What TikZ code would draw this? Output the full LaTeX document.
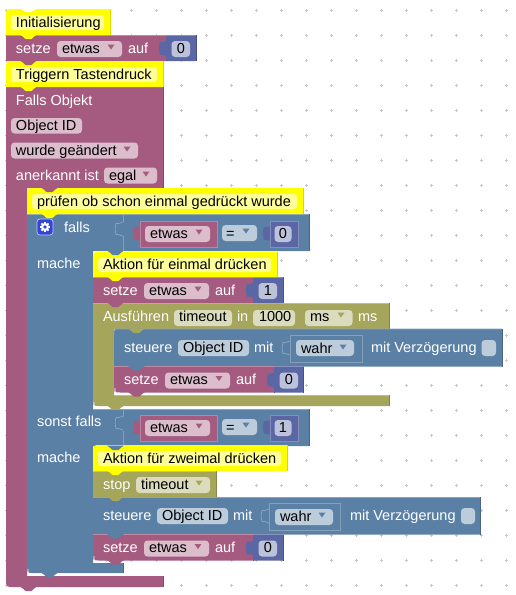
\documentclass[tikz,border=0pt]{standalone}
\usepackage{fontspec}
\setmainfont{Liberation Sans}
\definecolor{pur}{HTML}{A55B80}
\definecolor{blu}{HTML}{5B80A5}
\definecolor{num}{HTML}{5B67A5}
\definecolor{oli}{HTML}{A5A55B}
\definecolor{yel}{HTML}{FFFF00}
\definecolor{yin}{HTML}{FFFF99}
\definecolor{fpur}{HTML}{DBBDCC}
\definecolor{fblu}{HTML}{BDCCDB}
\definecolor{fnum}{HTML}{BDC2DB}
\definecolor{foli}{HTML}{DBDBBD}
\definecolor{gear}{HTML}{3344DD}
\newcounter{tn}
\tikzset{
  lab/.style={anchor=base west,inner sep=0pt,outer sep=0pt,font=\fontsize{14.5}{16}\selectfont},
  labc/.style={anchor=base,inner sep=0pt,outer sep=0pt,font=\fontsize{14.5}{16}\selectfont},
  edge/.style={line width=0.7pt}
}
% block: colour x1 y1 x2 y2 top-left radius bottom-left radius
\newcommand{\blk}[7]{%
  \fill[#1] (#2,#3+#6) .. controls (#2,#3) .. (#2+#6,#3) -- (#4,#3) -- (#4,#5) -- (#2+#7,#5) .. controls (#2,#5) .. (#2,#5-#7) -- cycle;
  \draw[edge,#1!72!white] (#2,#3+#6) .. controls (#2,#3) .. (#2+#6,#3) -- (#4,#3);
  \draw[edge,#1!80!black] (#4,#3) -- (#4,#5);
}
% statement tab below a block at left x, edge y
\newcommand{\tabd}[3]{%
  \fill[#1] (#2+14,#3-0.5) .. controls (#2+17,#3) and (#2+18,#3+4) .. (#2+20,#3+4) -- (#2+25,#3+4) .. controls (#2+27,#3+4) and (#2+28,#3) .. (#2+31,#3-0.5) -- cycle;
}
% comment block
\newcommand{\cmtbox}[4]{%
  \fill[yel] (#1,#2+8) .. controls (#1,#2) .. (#1+8,#2) -- (#3,#2) -- (#3,#4) -- (#1,#4) -- cycle;
  \draw[edge,yel!85!black] (#3,#2) -- (#3,#4);
  \fill[yin,rounded corners=3pt] (#1+5,#2+6) rectangle (#3-6,#4-5);
}
\newcommand{\lbl}[4][white]{\stepcounter{tn}\node[lab,text=#1] (t\arabic{tn}) at (#2,#3) {#4};}
\newcommand{\lblc}[4][black]{\stepcounter{tn}\node[labc,text=#1] (t\arabic{tn}) at (#2,#3) {#4};}
% field: fill x1 y1 x2 y2
\newcommand{\fld}[5]{\fill[#1,rounded corners=3.5pt] (#2,#3) rectangle (#4,#5);}
% dropdown triangle: colour cx cy
\newcommand{\ddn}[3]{\fill[#1] (#2-3.5,#3-2.5) -- (#2+3.5,#3-2.5) -- (#2,#3+2.5) -- cycle;}
% value tab: colour, x of block left, y of block top
\newcommand{\vt}[3]{%
  \fill[#1] (#2+0.5,#3+6) .. controls (#2-3,#3+6) and (#2-2,#3+8) .. (#2-6,#3+7) .. controls (#2-7.5,#3+11) and (#2-7.5,#3+15) .. (#2-6,#3+20) .. controls (#2-2,#3+19) and (#2-3,#3+21) .. (#2+0.5,#3+21) -- cycle;
}
% outline of an input socket
\newcommand{\sock}[3]{%
  \draw[edge,#1!70!white] (#2,#3) .. controls (#2-3,#3) and (#2-2,#3+2) .. (#2-7,#3+1.5) .. controls (#2-8,#3+5) and (#2-8,#3+9) .. (#2-7,#3+12.5) .. controls (#2-3,#3+12) and (#2-3,#3+14) .. (#2,#3+14);
}
% 'setze etwas auf n' row: x, top y, value
\newcommand{\setrow}[3]{%
  \vt{num}{#1+160}{#2}
  \fld{fpur}{#1+51}{#2+6}{#1+116}{#2+22}
  \fld{fnum}{#1+165.5}{#2+6}{#1+184}{#2+22}
  \ddn{pur}{#1+105}{#2+12}
  \lbl{#1+10}{#2+18}{setze}
  \lbl[black]{#1+56}{#2+18}{etwas}
  \lbl{#1+122}{#2+18}{auf}
  \lblc{#1+175}{#2+18}{#3}
}
% logic compare row: top y of value block, value
\newcommand{\logicrow}[2]{%
  \sock{blu}{123}{#1+1}
  \vt{pur}{140}{#1-1}
  \fill[pur,draw=pur!75!white,line width=.7pt] (140,#1) rectangle (217,#1+26);
  \vt{num}{270}{#1-1}
  \fill[num,draw=num!75!white,line width=.7pt] (270,#1) rectangle (298,#1+26);
  \fld{fpur}{145}{#1+5}{210}{#1+21}
  \fld{fblu}{222}{#1+4}{257}{#1+20}
  \fld{fnum}{274.5}{#1+5}{291.5}{#1+21}
  \ddn{pur}{199}{#1+11}
  \ddn{blu}{246}{#1+10}
  \lbl[black]{150}{#1+17}{etwas}
  \lbl[black]{226}{#1+17}{=}
  \lblc{283}{#1+17}{#2}
}
\begin{document}
\begin{tikzpicture}[x=1pt,y=-1pt]
\useasboundingbox (0,0) rectangle (515,595);
\fill[white] (0,0) rectangle (515,595);
% grid dots
\foreach \gx in {6,31,...,506}{\foreach \gy in {10,35,...,585}{
  \draw[line width=.6pt,black!22] (\gx-1.5,\gy) -- (\gx+1.5,\gy) (\gx,\gy-1.5) -- (\gx,\gy+1.5);
}}
% ---- big purple block
\fill[pur] (6,87) -- (163,87) -- (163,188) -- (27,188) -- (27,576) -- (163,576) -- (163,587) -- (14,587) .. controls (6,587) .. (6,579) -- cycle;
\draw[edge,pur!80!black] (163,87) -- (163,188) (163,576) -- (163,587);
% ---- blue if block
\fill[blu] (27,214) -- (309,214) -- (309,251) -- (93,251) -- (93,409) -- (309,409) -- (309,446) -- (93,446) -- (93,563) -- (123,563) -- (123,573) -- (33,573) .. controls (27,573) .. (27,567) -- cycle;
\draw[edge,blu!72!white] (27,214) -- (309,214) (93,409) -- (309,409);
\draw[edge,blu!80!black] (309,214) -- (309,251) (309,409) -- (309,446) (123,563) -- (123,573);
\draw[edge,white] (28,569) .. controls (28,574) .. (33,574.2) -- (123,574.2);
\draw[edge,blu!75!white] (123,214) -- (123,222) (123,236) -- (123,251) (123,409) -- (123,417) (123,431) -- (123,446);
% ---- olive timeout block
\fill[oli] (93,303) -- (389,303) -- (389,329) -- (114,329) -- (114,395) -- (389,395) -- (389,406) -- (99,406) .. controls (93,406) .. (93,400) -- cycle;
\draw[edge,oli!72!white] (93,303) -- (389,303) (114,395) -- (389,395);
\draw[edge,oli!80!black] (389,303) -- (389,329) (389,395) -- (389,406);
\draw[edge,white] (94,402) .. controls (94,407) .. (99,407.2) -- (125,407.2);
% ---- simple blocks
\blk{pur}{6}{35}{166}{61}{0}{0}
\blk{num}{166}{35}{196}{61}{0}{0}
\blk{pur}{93}{277}{253}{303}{0}{0}
\blk{num}{253}{277}{283}{303}{0}{0}
\blk{blu}{114}{329}{502}{366.5}{6}{0}
\blk{pur}{114}{366.5}{274}{392.5}{0}{6}
\blk{num}{274}{366.5}{303.5}{392.5}{0}{0}
\draw[edge,white] (115,388) .. controls (115,393.5) .. (120,393.6) -- (126,393.6);
\blk{oli}{93}{471}{216}{497}{0}{0}
\blk{blu}{93}{497}{480}{534.5}{0}{0}
\blk{pur}{93}{534.5}{253}{560.5}{0}{6}
\blk{num}{253}{534.5}{283}{560.5}{0}{0}
\draw[edge,white] (94,556) .. controls (94,561.5) .. (99,561.6) -- (105,561.6);
% ---- comment blocks
\cmtbox{6}{9}{110}{35}
\cmtbox{6}{61}{163}{87}
\cmtbox{27}{188}{303}{214}
\cmtbox{93}{252}{277}{277}
\cmtbox{93}{445}{287}{471}
% ---- tabs
\fill[white] (20,8.5) .. controls (23,9) and (24,12) .. (26,12) -- (31,12) .. controls (33,12) and (34,9) .. (37,8.5) -- cycle;
\tabd{yel}{6}{35}
\tabd{pur}{6}{61}
\tabd{yel}{6}{87}
\tabd{pur}{27}{188}
\tabd{yel}{27}{214}
\tabd{blu}{93}{251}
\tabd{yel}{93}{277}
\tabd{pur}{93}{303}
\tabd{oli}{114}{329}
\tabd{blu}{114}{366.5}
\tabd{pur}{114}{392.5}
\tabd{oli}{93}{406}
\tabd{blu}{93}{446}
\tabd{yel}{93}{471}
\tabd{oli}{93}{497}
\tabd{blu}{93}{534.5}
\tabd{pur}{93}{560.5}
\tabd{blu}{27}{573}
\tabd{pur}{6}{587}
% ---- comment texts
\lbl[black]{16}{27}{Initialisierung}
\lbl[black]{16}{79}{Triggern Tastendruck}
\lbl[black]{37}{206}{prüfen ob schon einmal gedrückt wurde}
\lbl[black]{103}{269}{Aktion für einmal drücken}
\lbl[black]{103}{463}{Aktion für zweimal drücken}
% ---- top rows
\setrow{6}{35}{0}
\lbl{16}{105}{Falls Objekt}
\fld{fpur}{11}{118}{82}{133.5}
\lbl[black]{16}{130}{Object ID}
\fld{fpur}{11}{142.5}{138}{158.5}
\ddn{pur}{127}{149}
\lbl[black]{16}{155}{wurde geändert}
\lbl{16}{180}{anerkannt ist}
\fld{fpur}{104}{167.5}{157}{183.5}
\ddn{pur}{146}{174}
\lbl[black]{109}{180}{egal}
% ---- if
\fill[gear,rounded corners=3pt] (37,219) rectangle (53,235);
\draw[edge,white!70!gear,rounded corners=3pt] (37,219) rectangle (53,235);
\foreach \ga in {0,45,...,315}{\draw[white,line width=1.9pt] (45,227) -- ++(\ga:5);}
\fill[white] (45,227) circle (4);
\fill[gear] (45,227) circle (1.8);
\lbl{64}{232}{falls}
\logicrow{221}{0}
\lbl{37}{268}{mache}
\setrow{93}{277}{1}
\lbl{103}{321}{Ausführen}
\fld{foli}{174}{310}{232}{326}
\lbl[black]{179}{321}{timeout}
\lbl{237}{321}{in}
\fld{foli}{253}{310}{295}{326}
\lbl[black]{259}{321}{1000}
\fld{foli}{305}{310}{352.5}{326}
\lbl[black]{310}{321}{ms}
\ddn{oli}{341}{315}
\lbl{358}{321}{ms}
% steuere 1
\lbl{124}{352}{steuere}
\fld{fblu}{178}{340}{249}{356}
\lbl[black]{183}{352}{Object ID}
\lbl{254}{352}{mit}
\sock{blu}{290}{341}
\draw[edge,blu!75!white] (290,335) rectangle (362,362.5);
\fld{fblu}{296}{340}{354}{356}
\lbl[black]{301}{353}{wahr}
\ddn{blu}{343}{347}
\lbl{371}{352}{mit Verzögerung}
\fld{fblu}{481.5}{340}{496}{356}
\setrow{114}{366.5}{0}
% sonst falls
\lbl{37}{426}{sonst falls}
\logicrow{415}{1}
\lbl{37}{462}{mache}
\lbl{103}{489}{stop}
\fld{foli}{136}{477}{210}{493}
\lbl[black]{141}{489}{timeout}
\ddn{oli}{199}{483}
% steuere 2
\lbl{103}{520}{steuere}
\fld{fblu}{157}{508}{228}{524}
\lbl[black]{162}{520}{Object ID}
\lbl{233}{520}{mit}
\sock{blu}{269}{509}
\draw[edge,blu!75!white] (269.5,503) rectangle (340,530);
\fld{fblu}{275}{509}{333}{525}
\lbl[black]{280}{521}{wahr}
\ddn{blu}{322}{515}
\lbl{350}{520}{mit Verzögerung}
\fld{fblu}{461}{508}{475}{524}
\setrow{93}{534.5}{0}
\end{tikzpicture}
\end{document}
